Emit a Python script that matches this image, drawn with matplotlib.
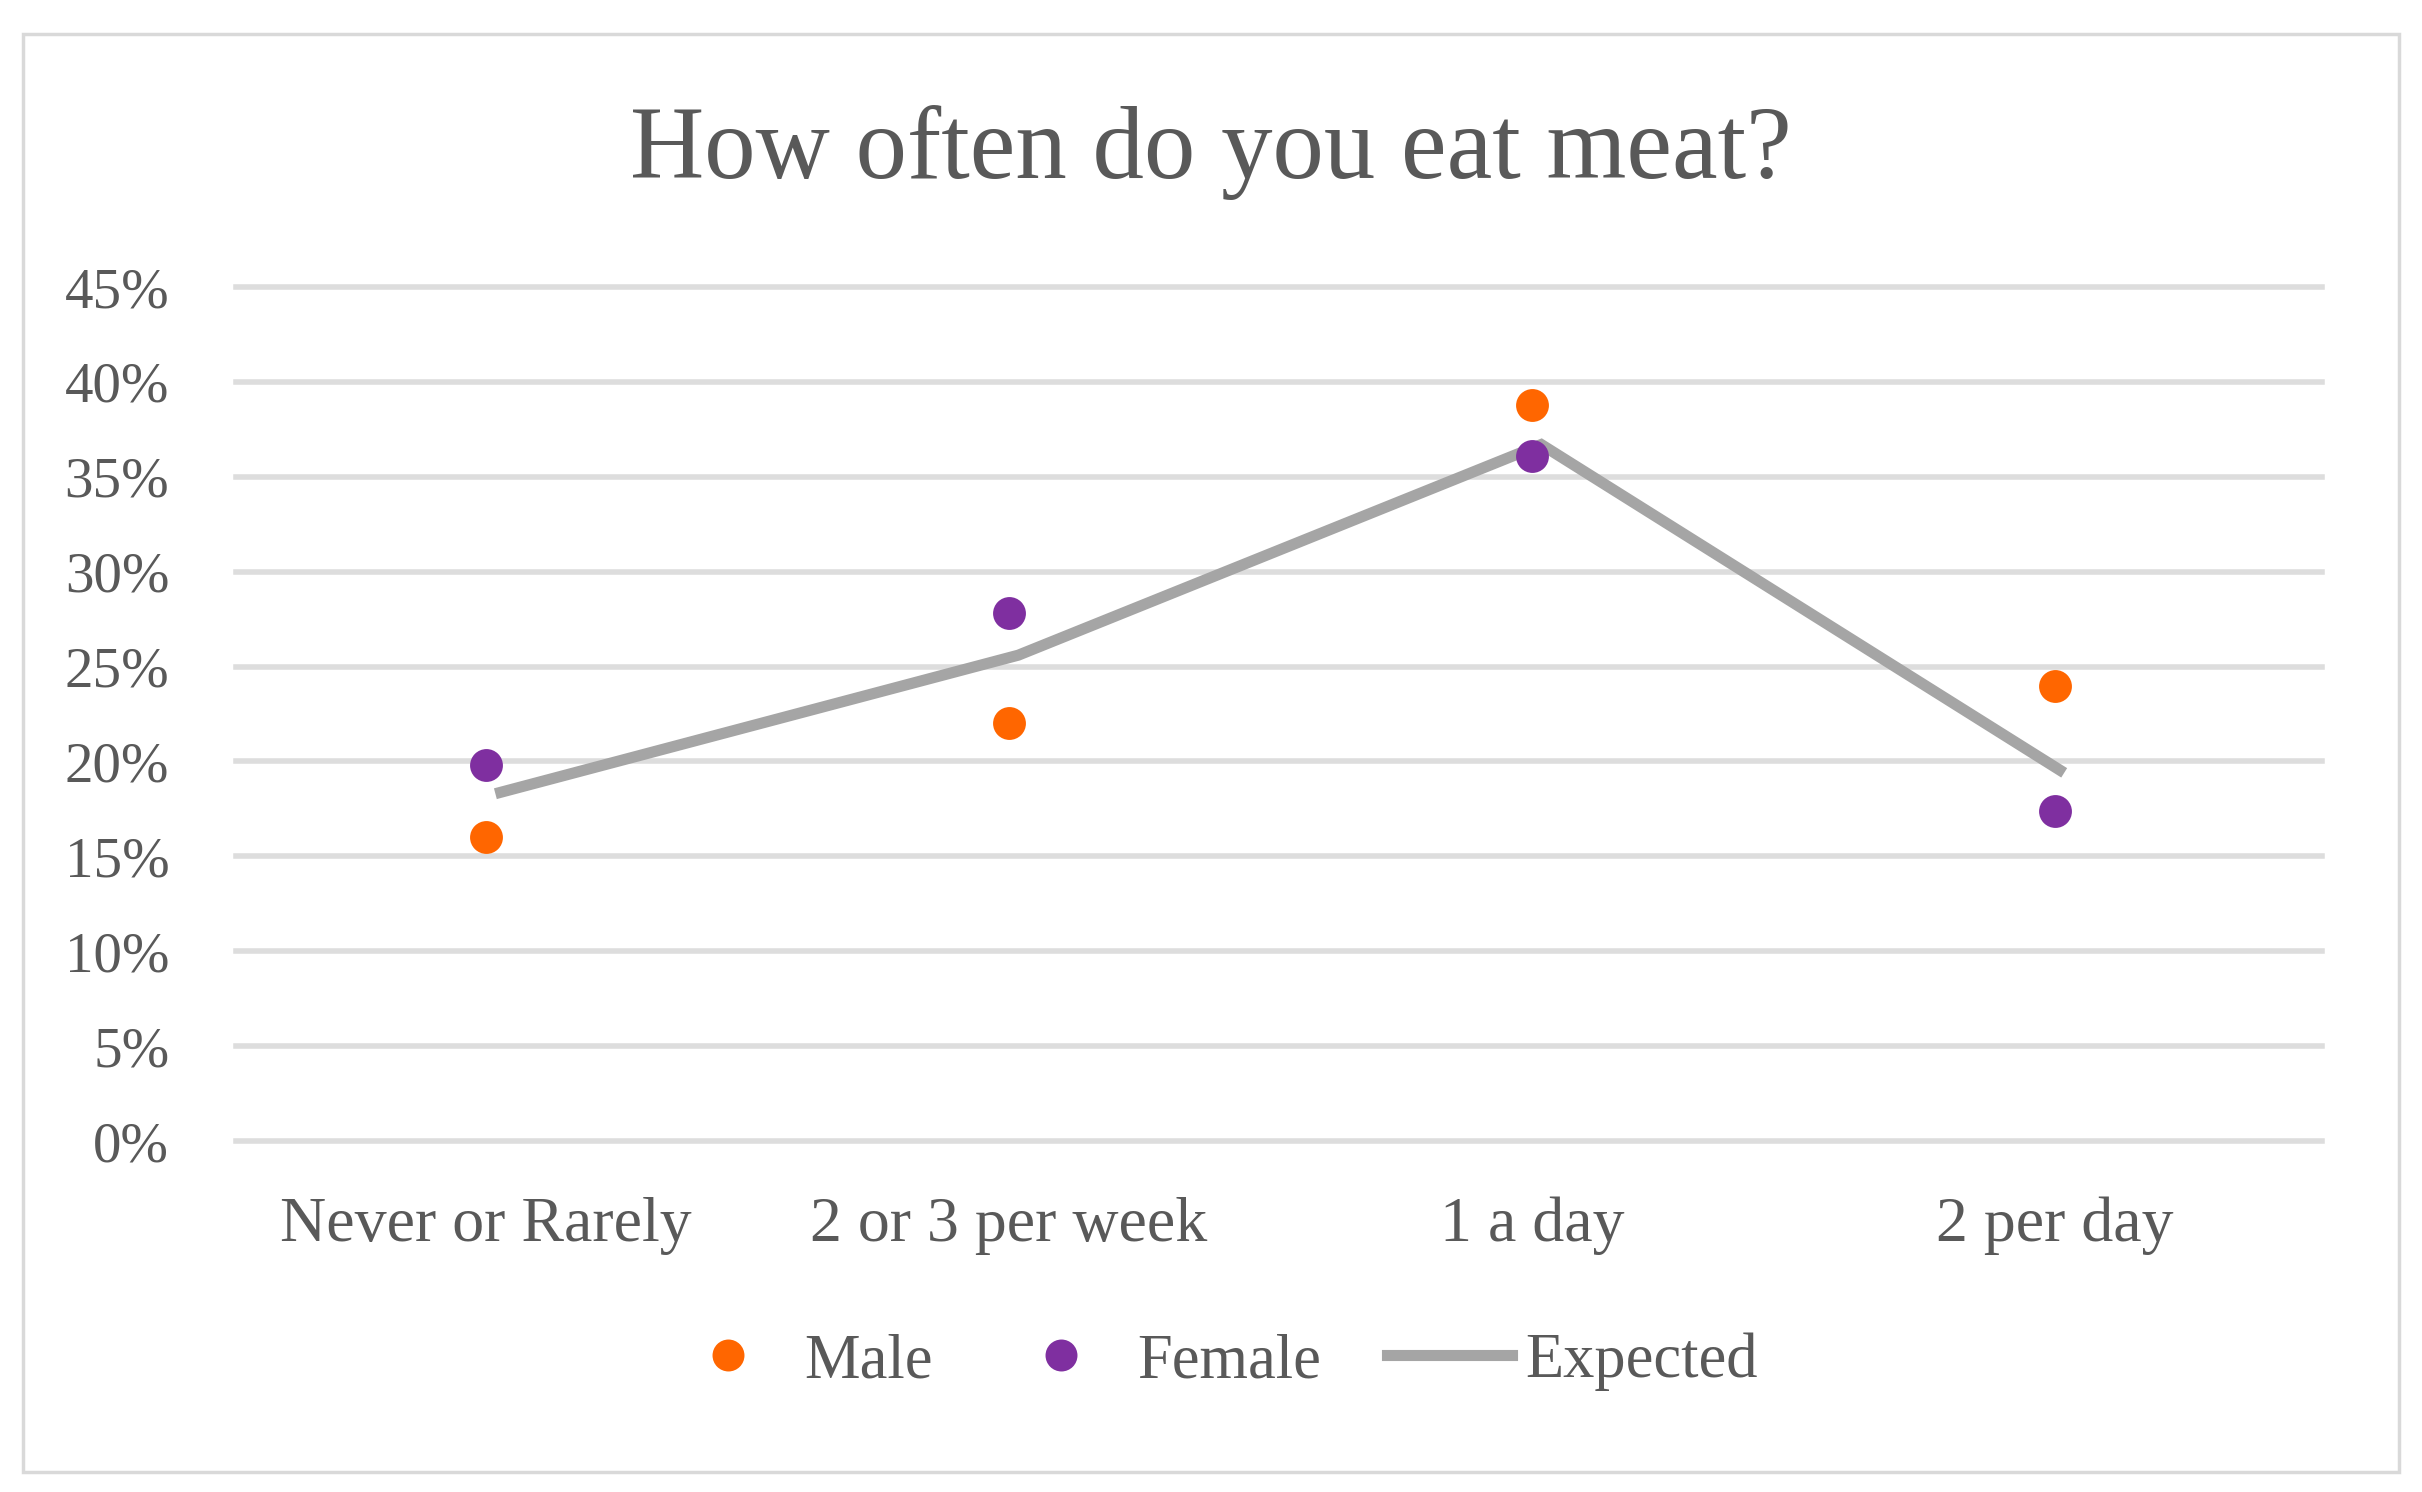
import matplotlib
matplotlib.use("Agg")
import matplotlib.pyplot as plt
from matplotlib.lines import Line2D
from matplotlib.patches import Rectangle
from matplotlib.ticker import FuncFormatter

categories = ["Never or Rarely", "2 or 3 per week", "1 a day", "2 per day"]
male = [16.0, 22.0, 38.8, 24.0]
female = [19.8, 27.8, 36.1, 17.4]
expected = [18.3, 25.6, 36.7, 19.4]
yticks = [0, 5, 10, 15, 20, 25, 30, 35, 40, 45]

plt.rcParams['font.family'] = ['Liberation Serif', 'DejaVu Serif']
TXT = '#595959'

W, H = 2422, 1492
fig = plt.figure(figsize=(W / 100, H / 100), dpi=100)
fig.patch.set_facecolor('white')
fig.patches.append(Rectangle((23 / W, 1 - 1472 / H), (2399 - 23) / W, (1472 - 34) / H,
                             transform=fig.transFigure, fill=False,
                             edgecolor='#D9D9D9', linewidth=2.5))

left, right, top, bottom = 236, 2322, 287, 1141
ax = fig.add_axes([left / W, 1 - bottom / H, (right - left) / W, (bottom - top) / H])

x = list(range(len(categories)))
ax.plot([xi + 0.018 for xi in x], expected, color='#A5A5A5', linewidth=8.0,
        solid_capstyle='butt', solid_joinstyle='miter', zorder=3, label='Expected')
ax.scatter(x, male, s=560, color='#FF6600', zorder=4, label='Male', linewidths=0)
ax.scatter(x, female, s=560, color='#7F2FA0', zorder=5, label='Female', linewidths=0)

ax.set_xlim(-0.478, 3.511)
ax.set_ylim(0, 45)
ax.set_yticks(yticks)
ax.yaxis.set_major_formatter(FuncFormatter(lambda v, p: f"{int(v)}%"))
ax.set_xticks(x)
ax.set_xticklabels(categories)
ax.tick_params(axis='y', length=0, pad=48, labelsize=41, labelcolor=TXT)
ax.tick_params(axis='x', length=0, pad=40, labelsize=46, labelcolor=TXT)
for s in ax.spines.values():
    s.set_visible(False)
ax.yaxis.grid(True, color='#DDDDDD', linewidth=4.0)
for gl in ax.get_ygridlines():
    gl.set_clip_on(False)
ax.set_axisbelow(True)

fig.text(0.5, 1 - 152 / H, "How often do you eat meat?", ha='center', va='center',
         fontsize=74, color=TXT)

handles = [
    Line2D([], [], linestyle='none', marker='o', markersize=23, color='#FF6600', markeredgewidth=0),
    Line2D([], [], linestyle='none', marker='o', markersize=23, color='#7F2FA0', markeredgewidth=0),
    Line2D([], [], color='#A5A5A5', linewidth=8),
]
fig.legend(handles, ["Male", "Female", "Expected"], loc='center',
           bbox_to_anchor=(1212 / W, 1 - 1362 / H), ncol=3, frameon=False,
           fontsize=45, labelcolor=TXT, handlelength=2.0, handletextpad=0.22,
           columnspacing=1.05)

fig.savefig("out.png", dpi=100)
